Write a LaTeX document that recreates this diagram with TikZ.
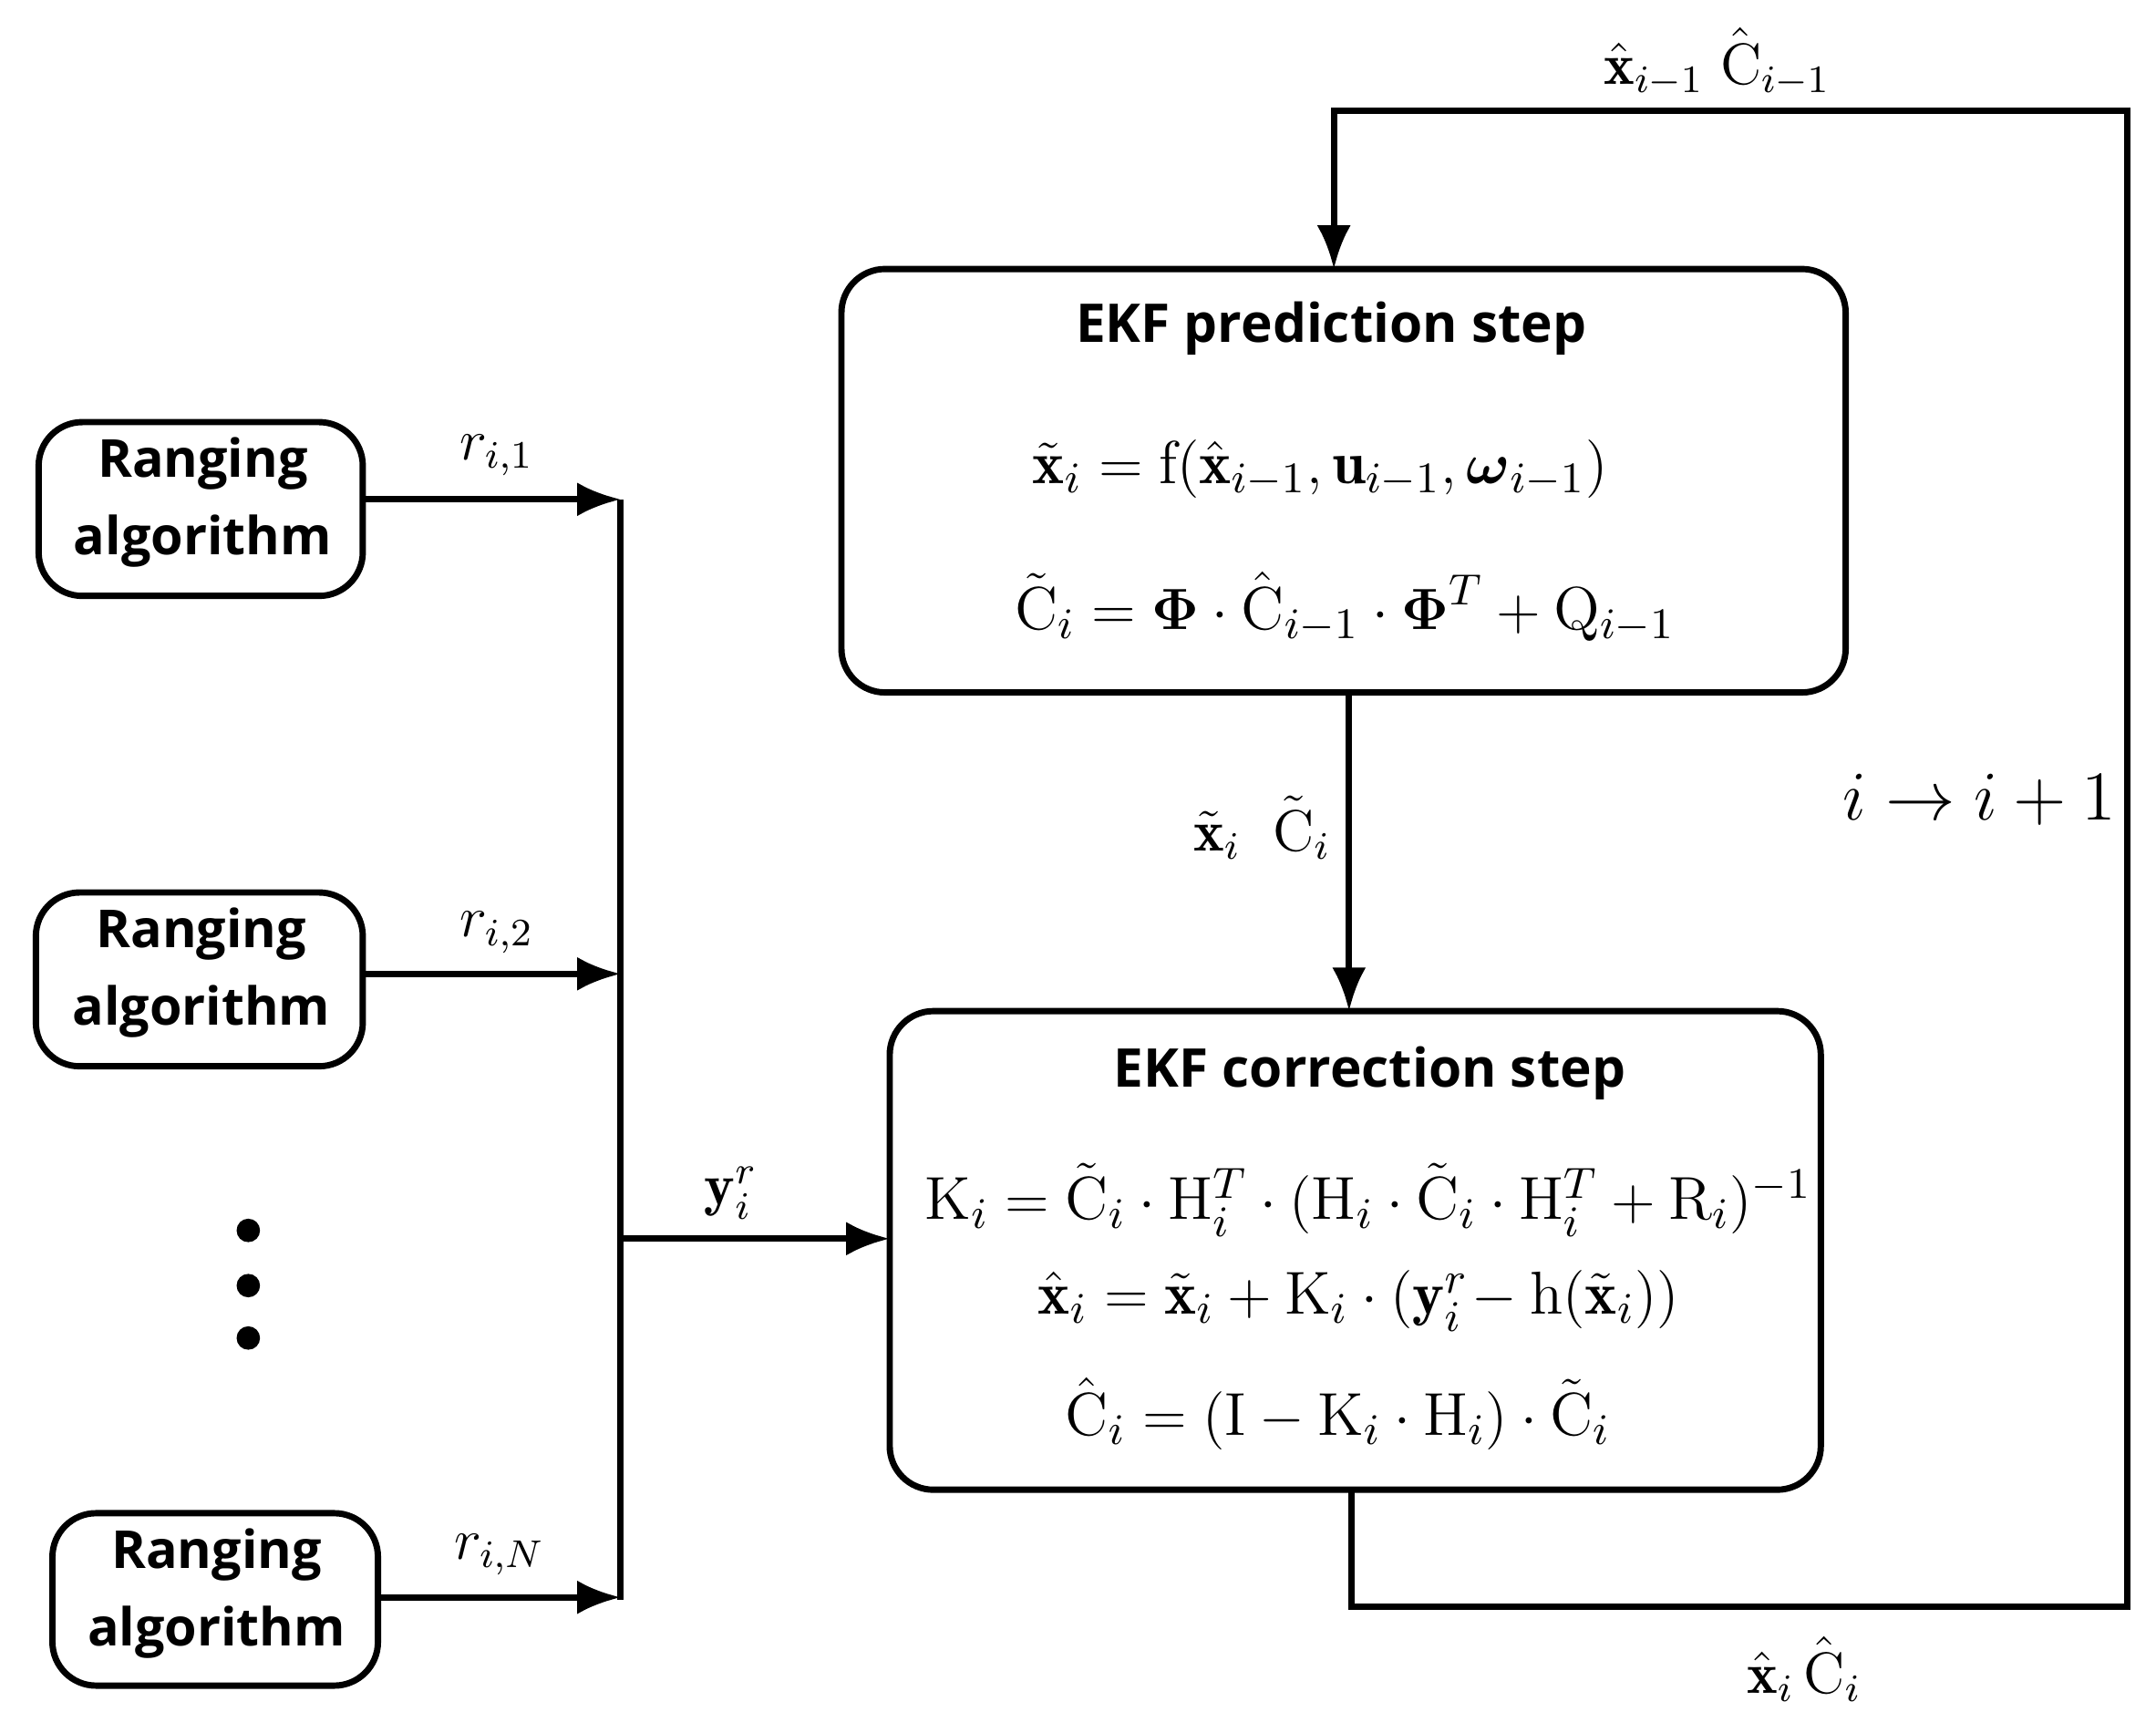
\documentclass[tikz,border=0pt]{standalone}
\usepackage{fontspec}
\usepackage{amsmath}
\usetikzlibrary{arrows.meta}
\newfontfamily\sansb{Open Sans}
\begin{document}
\begin{tikzpicture}[x=0.01cm,y=-0.01cm,
  rtext/.style={font=\sansb\bfseries\fontsize{10.8}{16}\selectfont,align=center},
  ttext/.style={font=\sansb\bfseries\fontsize{11}{13}\selectfont},
  ebox/.style={draw,line width=1.3pt,rounded corners=9pt},
  arr/.style={line width=1.3pt,-{Latex[length=9pt,width=7pt]}},
  ln/.style={line width=1.3pt},
  lab/.style={font=\fontsize{12}{14}\selectfont},
  eq/.style={font=\fontsize{12.5}{15}\selectfont}]
\useasboundingbox (0,0) rectangle (1563,1241);
% ranging boxes
\draw[ln,rounded corners=9pt] (28,306) rectangle (263,432);
\node[rtext] (t1) at (147,364) {Ranging\\algorithm};
\draw[ln,rounded corners=9pt] (26,647) rectangle (263,773);
\node[rtext] (t2) at (146,705) {Ranging\\algorithm};
\draw[ln,rounded corners=9pt] (38,1097) rectangle (274,1222);
\node[rtext] (t3) at (157,1155) {Ranging\\algorithm};
\coordinate (b1) at (450,362);
\coordinate (b2) at (450,706);
\coordinate (b3) at (450,1158);
\coordinate (bm) at (450,898);
\draw[arr] (263,362) -- (b1);
\draw[arr] (263,706) -- (b2);
\draw[arr] (274,1158) -- (b3);
\draw[ln] (450,362) -- (450,1160);
\node[lab] (l1) at (360,330) {$r_{i,1}$};
\node[lab] (l2) at (360,676) {$r_{i,2}$};
\node[lab] (l3) at (362,1127) {$r_{i,N}$};
\foreach \y in {892,932,970} \fill (180,\y) circle (8.5);
% prediction
\draw[ebox] (610,195) rectangle (1338,502);
\node[ttext] (pt) at (965,238) {EKF prediction step};
\node[eq] (p1) at (957,340) {$\tilde{\mathbf{x}}_i=\mathrm{f}(\hat{\mathbf{x}}_{i-1},\mathbf{u}_{i-1},\boldsymbol{\omega}_{i-1})$};
\node[eq] (p2) at (975,440) {$\tilde{\mathrm{C}}_i=\boldsymbol{\Phi}\cdot\hat{\mathrm{C}}_{i-1}\cdot\boldsymbol{\Phi}^T+\mathrm{Q}_{i-1}$};
% correction
\draw[ebox] (645,733) rectangle (1320,1080);
\node[ttext] (ct) at (993,778) {EKF correction step};
\node[eq] (c1) at (992,870) {$\mathrm{K}_i=\tilde{\mathrm{C}}_i\cdot\mathrm{H}_i^T\cdot(\mathrm{H}_i\cdot\tilde{\mathrm{C}}_i\cdot\mathrm{H}_i^T+\mathrm{R}_i)^{-1}$};
\node[eq] (c2) at (985,943) {$\hat{\mathbf{x}}_i=\tilde{\mathbf{x}}_i+\mathrm{K}_i\cdot(\mathbf{y}_i^r\!-\mathrm{h}(\tilde{\mathbf{x}}_i))$};
\node[eq] (c3) at (970,1025) {$\hat{\mathrm{C}}_i=(\mathrm{I}-\mathrm{K}_i\cdot\mathrm{H}_i)\cdot\tilde{\mathrm{C}}_i$};
% connections
\draw[arr] (bm) -- (645,898);
\node[lab] (ly) at (530,865) {$\mathbf{y}_i^r$};
\draw[arr] (978,502) -- (978,733);
\node[lab] (lx) at (915,600) {$\tilde{\mathbf{x}}_i\;\;\tilde{\mathrm{C}}_i$};
\draw[arr] (980,1080) -- (980,1165) -- (1542,1165) -- (1542,80) -- (967,80) -- (967,195);
\node[lab] (lf) at (1308,1210) {$\hat{\mathbf{x}}_i\,\hat{\mathrm{C}}_i$};
\node[lab] (lt) at (1245,45) {$\hat{\mathbf{x}}_{i-1}\;\hat{\mathrm{C}}_{i-1}$};
\node[font=\fontsize{15}{17}\selectfont] (li) at (1435,580) {$i\rightarrow i+1$};
\end{tikzpicture}
\end{document}
